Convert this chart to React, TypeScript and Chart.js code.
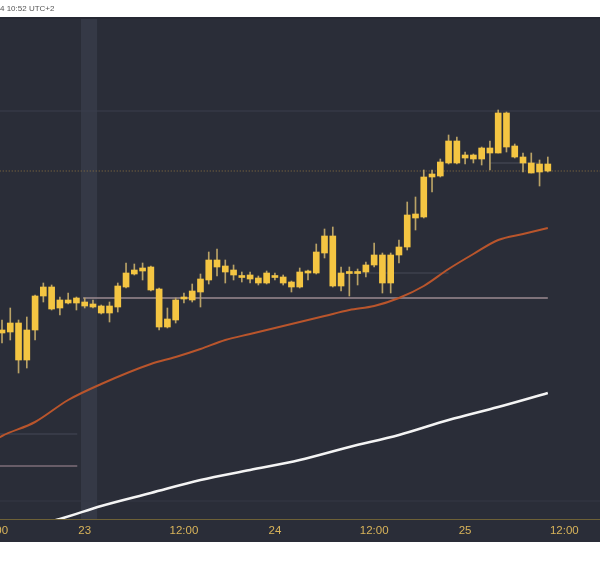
import React, { useEffect, useRef } from 'react';
import { Chart, registerables } from 'chart.js';

Chart.register(...registerables);

// ---- Data (price units) ----
const opens = [186,187,196,159,189,223,232,211,219,216,217,212,213,206,212,232,245,248,252,230,192,199,220,219,227,239,259,253,249,243,244,241,236,243,242,237,232,248,246,266,283,233,247,245.5,247,254,264,236,264,272,305,302,342,343,356,378,361,364,360,371,366,406,373,362,356,347,355];
const closes = [189,196,159,189,223,232,210,219,216,221,213,215,206,213,233,246,249,251,229,192,200,219,222,228,240,259,252,247,244,241.5,240,236,246,241.5,236,232,247,246,267,283,233,246,245.5,247,254,264,236,264,272,304,301,342,345,357,378,356,364,360,371,366,406,372,362,356,346,355,348];
const highs = [199,211,199,202,224,236,234,222,226,222,221,219,214,217,236,256,255,256,253,231,211,221,226,235,245,267,270,259,254,247,247,243,248,246,244,238,251,249,275,290,292,252,252,250,257,276,266,266,279,317,322,349,349,360,384,382,367,365,372,378,409,407,375,366,366,359,362];
const lows = [176,179,146,151,179,217,209,204,215,209,211,211,205,197,207,231,244,239,228,189,191,196,216,217,212,235,243,236,239,237,236,234,235,239,234,227,231,239,245,261,232,228,223,234,242,252,226,226,256,269,289,301,327,342,355,355,355,356,354,349,366,367,361,347,346,333,347];

const maFastX = [-1,0,4,8,12,18,21,24,27,30,33,36,39,42,45,48,51,54,57,60,63,66];
const maFastY = [78,83,97,119,135,155,162,170,179,185,191,197,203,209,213,221,233,250,265,279,285,291];
const maSlowX = [5,7,12,18,24,30,36,42,48,54,60,66];
const maSlowY = [-4,0,13,26,39,49,59,72,84,99,112,126];

const levelValue = [408, 221, 246, 356, 85, 53, 18];
const levelFrom = [-1, 9.8, 41.5, 59, -1, -1, -1];
const levelTo = [73, 66, 54, 65, 9.1, 9.1, 73];

const tickPos = [-1, 10, 22, 33, 45, 56, 68];
const tickText = ['12:00', '23', '12:00', '24', '12:00', '25', '12:00'];

const highlightFrom = 9.55;
const highlightTo = 11.5;

const headerText = '4 10:52 UTC+2';

// ---- Styles ----
const BG = '#2a2d38';
const levelColors = ['#3b3f4c', '#9b8a90', '#464a57', '#4a4e5b', '#444856', '#7e6e79', '#353945'];
const levelWidths = [1, 1.5, 1, 1, 1, 1.5, 1];

export default function App() {
  const ref = useRef<HTMLCanvasElement | null>(null);

  useEffect(() => {
    const canvas = ref.current;
    if (!canvas) return;

    const idx = opens.map((_, i) => i);
    const lastClose = closes[closes.length - 1];

    const levelDatasets: any[] = levelValue.map((v, k) => ({
      type: 'line',
      data: [{ x: levelFrom[k], y: v }, { x: levelTo[k], y: v }],
      borderColor: levelColors[k],
      borderWidth: levelWidths[k],
      pointRadius: 0,
      order: 5,
    }));

    const bgPlugin = {
      id: 'bgPlugin',
      beforeDraw(chart: any) {
        const { ctx, width, height, chartArea, scales } = chart;
        ctx.save();
        ctx.fillStyle = '#ffffff';
        ctx.fillRect(0, 0, width, height);
        ctx.fillStyle = BG;
        ctx.fillRect(0, 17, width, 525);
        ctx.fillStyle = '#252833';
        ctx.fillRect(0, 17, width, 2);
        const x0 = scales.x.getPixelForValue(highlightFrom);
        const x1 = scales.x.getPixelForValue(highlightTo);
        ctx.fillStyle = '#353946';
        ctx.fillRect(x0, 19, x1 - x0, chartArea.bottom - 19);
        ctx.fillStyle = '#555555';
        ctx.font = '8px "Liberation Sans", Arial, sans-serif';
        ctx.textBaseline = 'middle';
        ctx.textAlign = 'left';
        ctx.fillText(headerText, 0, 9);
        ctx.restore();
      },
      afterDraw(chart: any) {
        const { ctx, chartArea, scales } = chart;
        ctx.save();
        ctx.strokeStyle = '#6e6137';
        ctx.lineWidth = 1;
        ctx.beginPath();
        ctx.moveTo(0, chartArea.bottom + 0.5);
        ctx.lineTo(chart.width, chartArea.bottom + 0.5);
        ctx.stroke();
        ctx.fillStyle = '#d9b45a';
        ctx.font = '11.5px "Liberation Sans", Arial, sans-serif';
        ctx.textAlign = 'center';
        ctx.textBaseline = 'middle';
        tickPos.forEach((p, k) => {
          ctx.fillText(tickText[k], scales.x.getPixelForValue(p), 531);
        });
        ctx.restore();
      },
    };

    const chart = new Chart(canvas, {
      type: 'bar',
      data: {
        datasets: [
          {
            type: 'bar',
            data: idx.map((i) => ({ x: i, y: [Math.min(opens[i], closes[i]), Math.max(opens[i], closes[i])] })),
            backgroundColor: '#f4c542',
            borderWidth: 0,
            barThickness: 6,
            minBarLength: 2,
            grouped: false,
            order: 0,
          } as any,
          {
            type: 'bar',
            data: idx.map((i) => ({ x: i, y: [lows[i], highs[i]] })),
            backgroundColor: '#b9a266',
            borderWidth: 0,
            barThickness: 1,
            grouped: false,
            order: 1,
          } as any,
          {
            type: 'line',
            data: maFastX.map((x, k) => ({ x, y: maFastY[k] })),
            borderColor: '#b9552c',
            borderWidth: 2,
            pointRadius: 0,
            cubicInterpolationMode: 'monotone',
            order: 2,
          } as any,
          {
            type: 'line',
            data: maSlowX.map((x, k) => ({ x, y: maSlowY[k] })),
            borderColor: '#f4f4f4',
            borderWidth: 2.5,
            pointRadius: 0,
            cubicInterpolationMode: 'monotone',
            order: 2,
          } as any,
          {
            type: 'line',
            data: [{ x: -1, y: lastClose }, { x: 73, y: lastClose }],
            borderColor: '#8f7440',
            borderWidth: 1,
            borderDash: [1, 2],
            pointRadius: 0,
            order: 4,
          } as any,
          ...levelDatasets,
        ],
      },
      options: {
        animation: false,
        responsive: false,
        devicePixelRatio: 1,
        events: [],
        layout: { padding: { top: 18, bottom: 47, left: 0, right: 0 } },
        plugins: { legend: { display: false }, tooltip: { enabled: false } },
        scales: {
          x: { type: 'linear', min: -0.242, max: 72.31, display: false, offset: false },
          y: { type: 'linear', min: 0, max: 501, display: false },
        },
      },
      plugins: [bgPlugin],
    } as any);

    return () => chart.destroy();
  }, []);

  return (
    <div style={{ position: 'absolute', left: 0, top: 0, width: 600, height: 566 }}>
      <canvas ref={ref} width={600} height={566} style={{ display: 'block', width: 600, height: 566 }} />
    </div>
  );
}
